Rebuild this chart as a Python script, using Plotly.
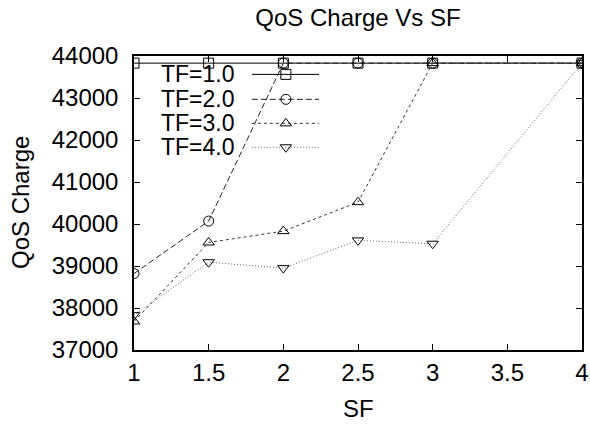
import plotly.graph_objects as go

sf = [1, 1.5, 2, 2.5, 3, 4]
tf1 = [43830, 43830, 43830, 43830, 43830, 43830]
tf2 = [38820, 40070, 43830, 43830, 43830, 43830]
tf3 = [37680, 39560, 39830, 40520, 43830, 43830]
tf4 = [37830, 39090, 38950, 39610, 39530, 43830]
names = ["TF=1.0", "TF=2.0", "TF=3.0", "TF=4.0"]
series = [tf1, tf2, tf3, tf4]
symbols = ["square-open", "circle-open", "triangle-up-open", "triangle-down-open"]
dashes = ["solid", "6px,3px", "3px,3px", "1px,2px"]
colors = ["#000000", "#222222", "#333333", "#666666"]

FONT = "Liberation Sans, Arial, sans-serif"
FS = 24

fig = go.Figure()
for n, ys, sym, d, c in zip(names, series, symbols, dashes, colors):
    fig.add_trace(go.Scatter(
        x=sf, y=ys, mode="lines+markers", name=n, showlegend=False,
        line=dict(color=c, width=1, dash=d),
        marker=dict(symbol=sym, size=10, color="#000000", line=dict(width=1, color="#000000")),
    ))

# manual gnuplot-style key (text left, sample right) on an overlay axis
key_rows = [0.9375, 0.8526, 0.771, 0.6895]
for n, ky, sym, d, c in zip(names, key_rows, symbols, dashes, colors):
    fig.add_trace(go.Scatter(
        x=[0.263, 0.413], y=[ky, ky], mode="lines", xaxis="x2", yaxis="y2",
        showlegend=False, hoverinfo="skip", line=dict(color=c, width=1, dash=d)))
    fig.add_trace(go.Scatter(
        x=[0.339], y=[ky], mode="markers", xaxis="x2", yaxis="y2",
        showlegend=False, hoverinfo="skip",
        marker=dict(symbol=sym, size=10, color="#000000", line=dict(width=1, color="#000000"))))
    fig.add_annotation(text=n, xref="paper", yref="paper", x=0.23, y=ky,
                       xanchor="right", yanchor="middle", showarrow=False,
                       font=dict(family=FONT, size=FS - 1, color="#000000"))

axis_common = dict(showgrid=False, zeroline=False, showline=True, linecolor="#000000",
                   linewidth=1.5, mirror="ticks", ticks="inside", ticklen=6,
                   tickcolor="#000000", automargin=False,
                   tickfont=dict(family=FONT, size=FS, color="#000000"))

fig.update_layout(
    width=590, height=426,
    margin=dict(l=134, r=8, t=56, b=76, autoexpand=False),
    paper_bgcolor="white", plot_bgcolor="white",
    title=dict(text="QoS Charge Vs SF", x=358 / 590, xanchor="center",
               y=1 - 18 / 426, yanchor="middle", automargin=False,
               font=dict(family=FONT, size=FS, color="#000000")),
    xaxis=dict(range=[1, 4], tickvals=[1, 1.5, 2, 2.5, 3, 3.5, 4],
               ticktext=["1", "1.5", "2", "2.5", "3", "3.5", "4"],
               ticklabelstandoff=0, **axis_common),
    yaxis=dict(range=[37000, 44000], dtick=1000, tickformat="d",
               ticklabelstandoff=9, **axis_common),
    xaxis2=dict(overlaying="x", range=[0, 1], visible=False),
    yaxis2=dict(overlaying="y", range=[0, 1], visible=False),
    showlegend=False,
)
fig.add_annotation(text="SF", xref="paper", yref="paper", x=0.5, y=0, yshift=-58,
                   xanchor="center", yanchor="middle", showarrow=False,
                   font=dict(family=FONT, size=FS, color="#000000"))
fig.add_annotation(text="QoS Charge", xref="paper", yref="paper", x=0, y=0.5, xshift=-114,
                   textangle=-90, xanchor="center", yanchor="middle", showarrow=False,
                   font=dict(family=FONT, size=FS, color="#000000"))

fig.write_html("out.html")
